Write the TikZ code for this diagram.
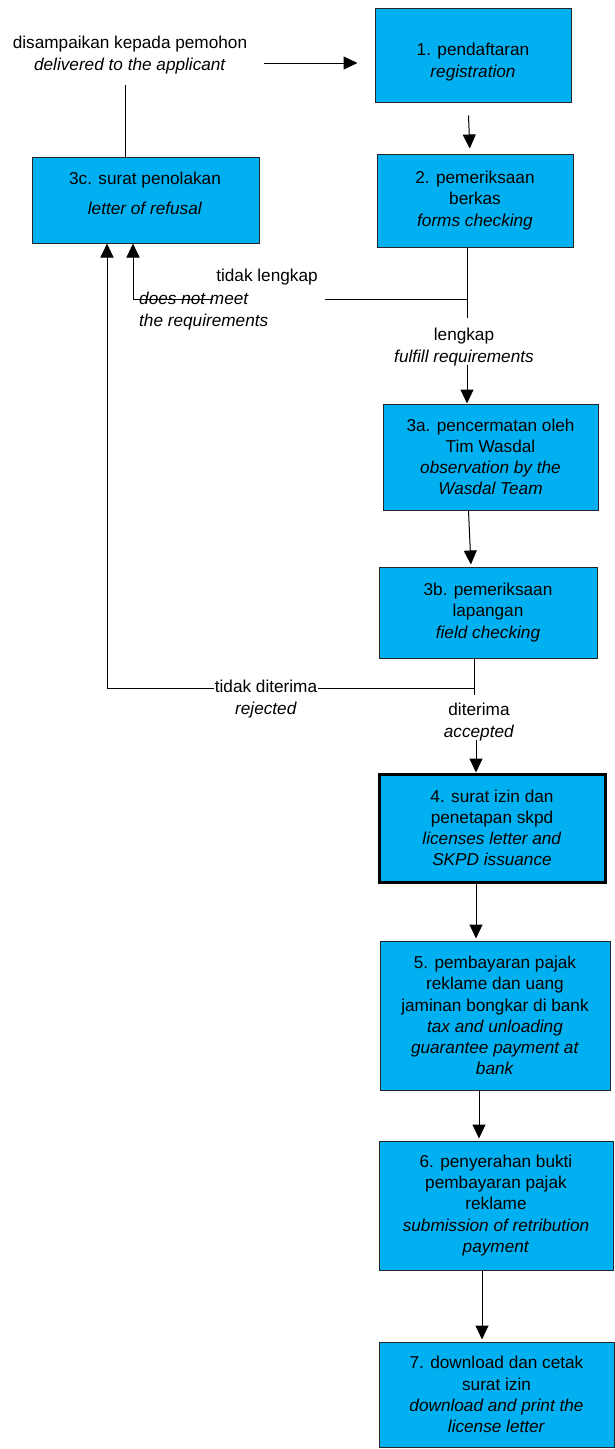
\documentclass[tikz,border=0pt]{standalone}
\usepackage{fontspec}
\setmainfont{Liberation Sans}
\usetikzlibrary{arrows.meta}
\definecolor{boxblue}{HTML}{00B0F0}
\begin{document}
\begin{tikzpicture}[x=1pt,y=-1pt,
  every node/.style={font=\fontsize{17.2}{21.2}\selectfont},
  box/.style={draw=black!85, line width=1pt, fill=boxblue, align=center, inner sep=0pt},
  arr/.style={-{Triangle[width=13pt,length=14pt]}, line width=1pt},
  ln/.style={line width=1pt},
  txt/.style={align=center, inner sep=1pt}]
\useasboundingbox (0,0) rectangle (615,1449);

% boxes
\node[box, minimum width=196pt, minimum height=94pt] (b1) at (473,55) {};
\node[txt] (t1) at (473,62) {1. pendaftaran\\\textit{registration}};
\node[box, minimum width=196pt, minimum height=93pt] (b2) at (475,200.5) {2. pemeriksaan\\berkas\\\textit{forms checking}};
\node[box, minimum width=227pt, minimum height=86pt] (b3c) at (145.5,200) {};
\node[txt] (t3c) at (145,193) {3c. surat penolakan\\[9pt]\textit{letter of refusal}};
\node[box, minimum width=215pt, minimum height=106pt] (b3a) at (490.5,457) {3a. pencermatan oleh\\Tim Wasdal\\\textit{observation by the}\\\textit{Wasdal Team}};
\node[box, minimum width=218pt, minimum height=91pt] (b3b) at (488,612.5) {3b. pemeriksaan\\lapangan\\\textit{field checking}};
\node[box, line width=3pt, draw=black, minimum width=226pt, minimum height=108pt] (b4) at (492,828) {4. surat izin dan\\penetapan skpd\\\textit{licenses letter and}\\\textit{SKPD issuance}};
\node[box, minimum width=230pt, minimum height=149pt] (b5) at (495,1015.5) {5. pembayaran pajak\\reklame dan uang\\jaminan bongkar di bank\\\textit{tax and unloading}\\\textit{guarantee payment at}\\\textit{bank}};
\node[box, minimum width=234pt, minimum height=129pt] (b6) at (496,1205.5) {6. penyerahan bukti\\pembayaran pajak\\reklame\\\textit{submission of retribution}\\\textit{payment}};
\node[box, minimum width=235pt, minimum height=105pt] (b7) at (496.5,1394.5) {7. download dan cetak\\surat izin\\\textit{download and print the}\\\textit{license letter}};

% labels
\node[txt] (lab0) at (130,55) {disampaikan kepada pemohon\\\textit{delivered to the applicant}};
\node[txt] (tl) at (267,277) {tidak lengkap};
\node[txt, align=left, anchor=west] (dn) at (138,311) {\textit{does not meet}\\\textit{the requirements}};
\node[txt] (lk) at (464,347) {lengkap\\\textit{fulfill requirements}};
\node[txt] (td) at (266,699) {tidak diterima\\\textit{rejected}};
\node[txt] (dt) at (479,722) {diterima\\\textit{accepted}};

% connectors
\coordinate (a0) at (264,63);
\draw[arr, shorten >=17pt] (a0) -- (a0 -| b1.west);
\coordinate (c0) at (125,85);
\draw[ln] (c0) -- (c0 |- b3c.north);
\draw[arr, shorten <=13pt, shorten >=5pt] ([xshift=-5pt]b1.south) -- ([xshift=-5pt]b2.north);

\coordinate (j1) at (467,299);
\coordinate (j1e) at (467,318);
\draw[ln] (b2.south -| j1) -- (j1e);
\coordinate (h1) at (325,299);
\draw[ln] (j1) -- (h1);
\coordinate (h2) at (213,299);
\coordinate (k1) at (133,299);
\draw[arr] (h2) -- (k1) -- (k1 |- b3c.south);

\coordinate (c3) at (467,365);
\draw[arr] (c3) -- (c3 |- b3a.north);
\draw[arr, shorten >=2pt] ([xshift=-22pt]b3a.south) -- ([xshift=-17pt]b3b.north);

\coordinate (j2) at (474,688);
\coordinate (j2e) at (474,695);
\draw[ln] (b3b.south -| j2) -- (j2e);
\draw[ln] (j2) -- (j2 -| td.east);
\coordinate (k2) at (107,688);
\draw[arr] (j2 -| td.west) -- (k2) -- (k2 |- b3c.south);

\coordinate (c4) at (476,740);
\draw[arr] (c4) -- (c4 |- b4.north);
\draw[arr, shorten >=2pt] ([xshift=-16pt]b4.south) -- ([xshift=-19pt]b5.north);
\draw[arr, shorten >=2pt] ([xshift=-16pt]b5.south) -- ([xshift=-17pt]b6.north);
\draw[arr, shorten >=2pt] ([xshift=-14pt]b6.south) -- ([xshift=-14.5pt]b7.north);
\end{tikzpicture}
\end{document}
